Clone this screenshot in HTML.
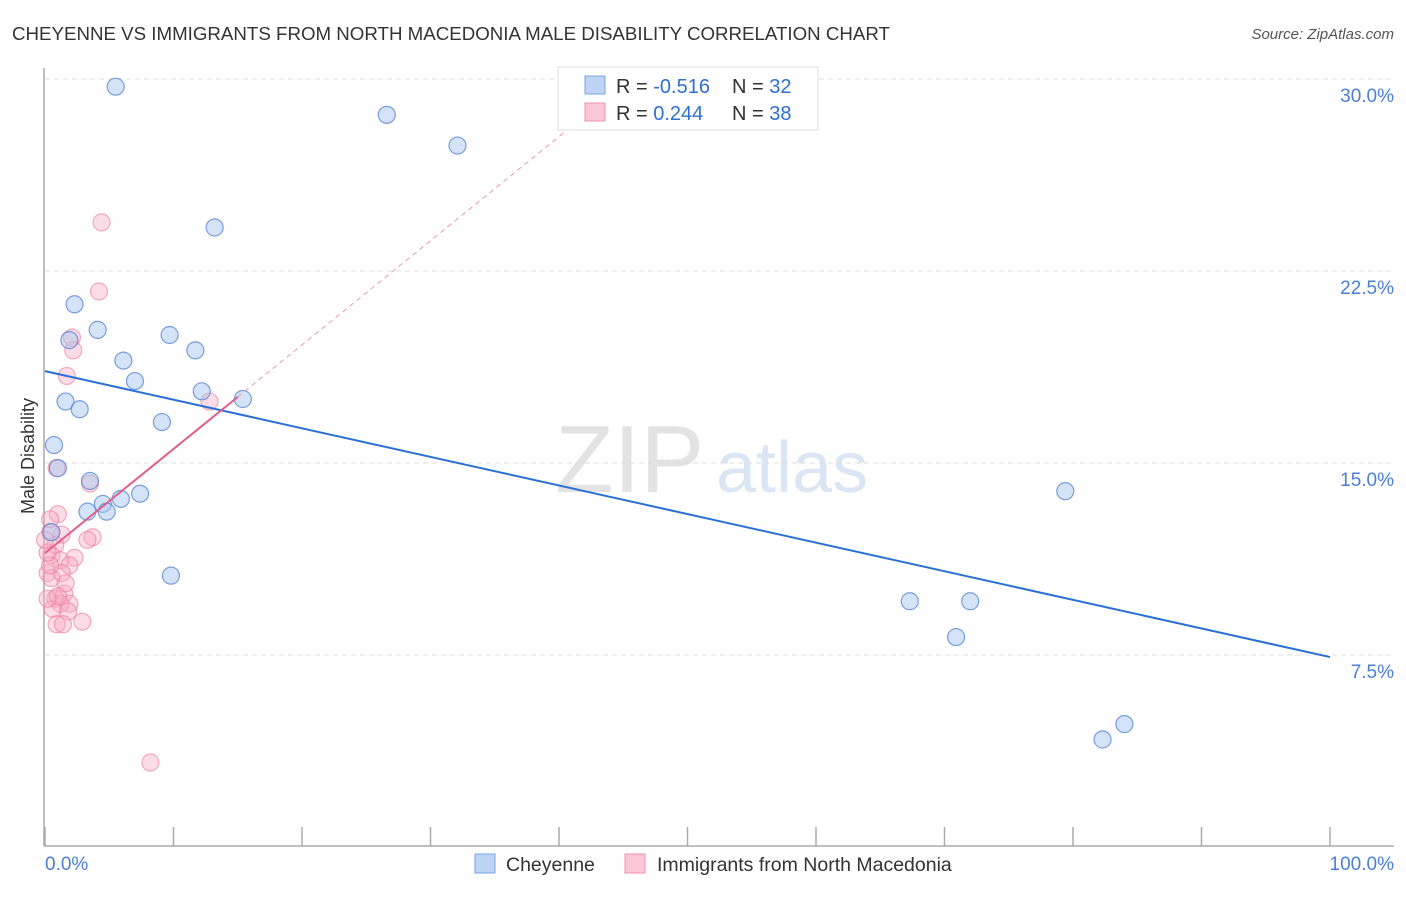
<!DOCTYPE html>
<html><head><meta charset="utf-8"><style>
body{margin:0;background:#fff;font-family:"Liberation Sans",sans-serif;}
svg text{font-family:"Liberation Sans",sans-serif;}
</style></head><body>
<svg id="chart" width="1406" height="892" xmlns="http://www.w3.org/2000/svg">
<text x="12" y="40" font-size="18.5" fill="#333" textLength="878" lengthAdjust="spacingAndGlyphs">CHEYENNE VS IMMIGRANTS FROM NORTH MACEDONIA MALE DISABILITY CORRELATION CHART</text>
<text x="1394" y="39" font-size="15" fill="#555" font-style="italic" text-anchor="end">Source: ZipAtlas.com</text>
<text x="555" y="492" font-size="96" fill="#e3e3e3" font-family="Liberation Serif">ZIP</text>
<text x="716" y="492" font-size="72" fill="#dbe6f5">atlas</text>
<g id="grid"></g>
<line x1="44" y1="68" x2="44" y2="846" stroke="#aaa" stroke-width="1.5"/>
<line x1="44" y1="846" x2="1394" y2="846" stroke="#aaa" stroke-width="1.5"/>
<text transform="translate(34,456) rotate(-90)" font-size="18" fill="#333" text-anchor="middle">Male Disability</text>
<text x="45" y="870" font-size="19" fill="#4a7fd4">0.0%</text>
<text x="1394" y="870" font-size="19" fill="#4a7fd4" text-anchor="end">100.0%</text>
<g id="pts"></g>
<g id="lines"></g>
<g>
<rect x="558" y="67" width="260" height="63" fill="#fff" stroke="#ddd"/>
<rect x="585" y="76" width="20" height="18" fill="#bcd3f5" stroke="#7aa3e0"/>
<rect x="585" y="103" width="20" height="18" fill="#fbc7d6" stroke="#ee92ad"/>
<text x="616" y="93" font-size="20" fill="#333">R = <tspan fill="#2e6fd6">-0.516</tspan></text>
<text x="732" y="93" font-size="20" fill="#333">N = <tspan fill="#2e6fd6">32</tspan></text>
<text x="616" y="120" font-size="20" fill="#333">R = <tspan fill="#2e6fd6"> 0.244</tspan></text>
<text x="732" y="120" font-size="20" fill="#333">N = <tspan fill="#2e6fd6">38</tspan></text>
</g>
<g>
<rect x="475" y="854" width="20" height="19" fill="#bcd3f5" stroke="#7aa3e0"/>
<text x="506" y="871" font-size="19.5" fill="#333">Cheyenne</text>
<rect x="625" y="854" width="20" height="19" fill="#fbc7d6" stroke="#ee92ad"/>
<text x="657" y="871" font-size="19.5" fill="#333">Immigrants from North Macedonia</text>
</g>
</svg>
<script>
const yTicks=[7.5,15,22.5,30];
const yTickLabels=["7.5%","15.0%","22.5%","30.0%"];
const xTicks=[0,10,20,30,40,50,60,70,80,90,100];
const blueX=[5.5,26.6,32.1,13.2,2.3,4.1,1.9,9.7,11.7,6.1,7.0,12.2,1.6,2.7,15.4,9.1,0.7,1.0,3.5,4.5,5.9,7.4,3.3,4.8,9.8,0.5,79.4,67.3,72.0,70.9,82.3,84.0];
const blueY=[29.7,28.6,27.4,24.2,21.2,20.2,19.8,20.0,19.4,19.0,18.2,17.8,17.4,17.1,17.5,16.6,15.7,14.8,14.3,13.4,13.6,13.8,13.1,13.1,10.6,12.3,13.9,9.6,9.6,8.2,4.2,4.8];
const pinkX=[4.4,4.2,2.1,2.2,1.7,12.8,0.9,3.5,1.0,0.4,1.3,3.7,3.3,0.8,0.5,2.3,1.2,1.9,0.2,1.3,0.5,1.5,0.8,1.9,1.2,1.8,0.6,2.9,0.9,1.4,8.2,0.4,0.2,1.0,0.2,1.6,0.0,0.4];
const pinkY=[24.4,21.7,19.9,19.4,18.4,17.4,14.8,14.2,13.0,12.3,12.2,12.1,12.0,11.8,11.4,11.3,11.2,11.0,10.7,10.7,10.5,9.9,9.7,9.5,9.5,9.2,9.3,8.8,8.7,8.7,3.3,11.0,11.5,9.8,9.7,10.3,12.0,12.8];
const blueFit=[18.59,7.42];
const pinkFit=[11.48,0.4067];
const X=v=>45+v*12.85, Y=v=>847-v*25.6;
const NS="http://www.w3.org/2000/svg";
const mk=(t,a,p)=>{const e=document.createElementNS(NS,t);for(const k in a)e.setAttribute(k,a[k]);p.appendChild(e);return e;};
const grid=document.getElementById('grid');
yTicks.forEach((t,i)=>{
 const l=mk('line',{x1:45,x2:1394,y1:Y(t),y2:Y(t),stroke:'#ddd','stroke-dasharray':'5,4'},grid);
 
 
 const tx=mk('text',{x:1394,y:Y(t)+23,'font-size':19,fill:'#4a7fd4','text-anchor':'end'},grid);
 tx.textContent=yTickLabels[i];
 
 
});
xTicks.forEach(t=>{
 const l=mk('line',{x1:X(t),x2:X(t),y1:827,y2:846,stroke:'#aaa','stroke-width':1.5},grid);
 
 
});
const pts=document.getElementById('pts');
pinkX.forEach((x,i)=>{
 const c=mk('circle',{cx:X(x),cy:Y(pinkY[i]),r:8.5,fill:'rgba(248,170,195,0.4)',stroke:'rgba(236,120,155,0.6)','stroke-width':1.2},pts);
 
 
});
blueX.forEach((x,i)=>{
 const c=mk('circle',{cx:X(x),cy:Y(blueY[i]),r:8.5,fill:'rgba(170,200,240,0.5)',stroke:'rgba(80,130,210,0.75)','stroke-width':1.2},pts);
 
 
});
const lines=document.getElementById('lines');
const bl=mk('line',{x1:X(0),y1:Y(blueFit[0]),x2:X(100),y2:Y(blueFit[1]),stroke:'#2a6fd6','stroke-width':2},lines);


const pd=mk('line',{x1:X(15),y1:Y(pinkFit[0]+pinkFit[1]*15),x2:X(40.5),y2:Y(pinkFit[0]+pinkFit[1]*40.5),stroke:'#e899b0','stroke-width':1,'stroke-dasharray':'5,4'},lines);


const pl=mk('line',{x1:X(0),y1:Y(pinkFit[0]),x2:X(15),y2:Y(pinkFit[0]+pinkFit[1]*15),stroke:'#e0608a','stroke-width':2},lines);


</script>
</body></html>
